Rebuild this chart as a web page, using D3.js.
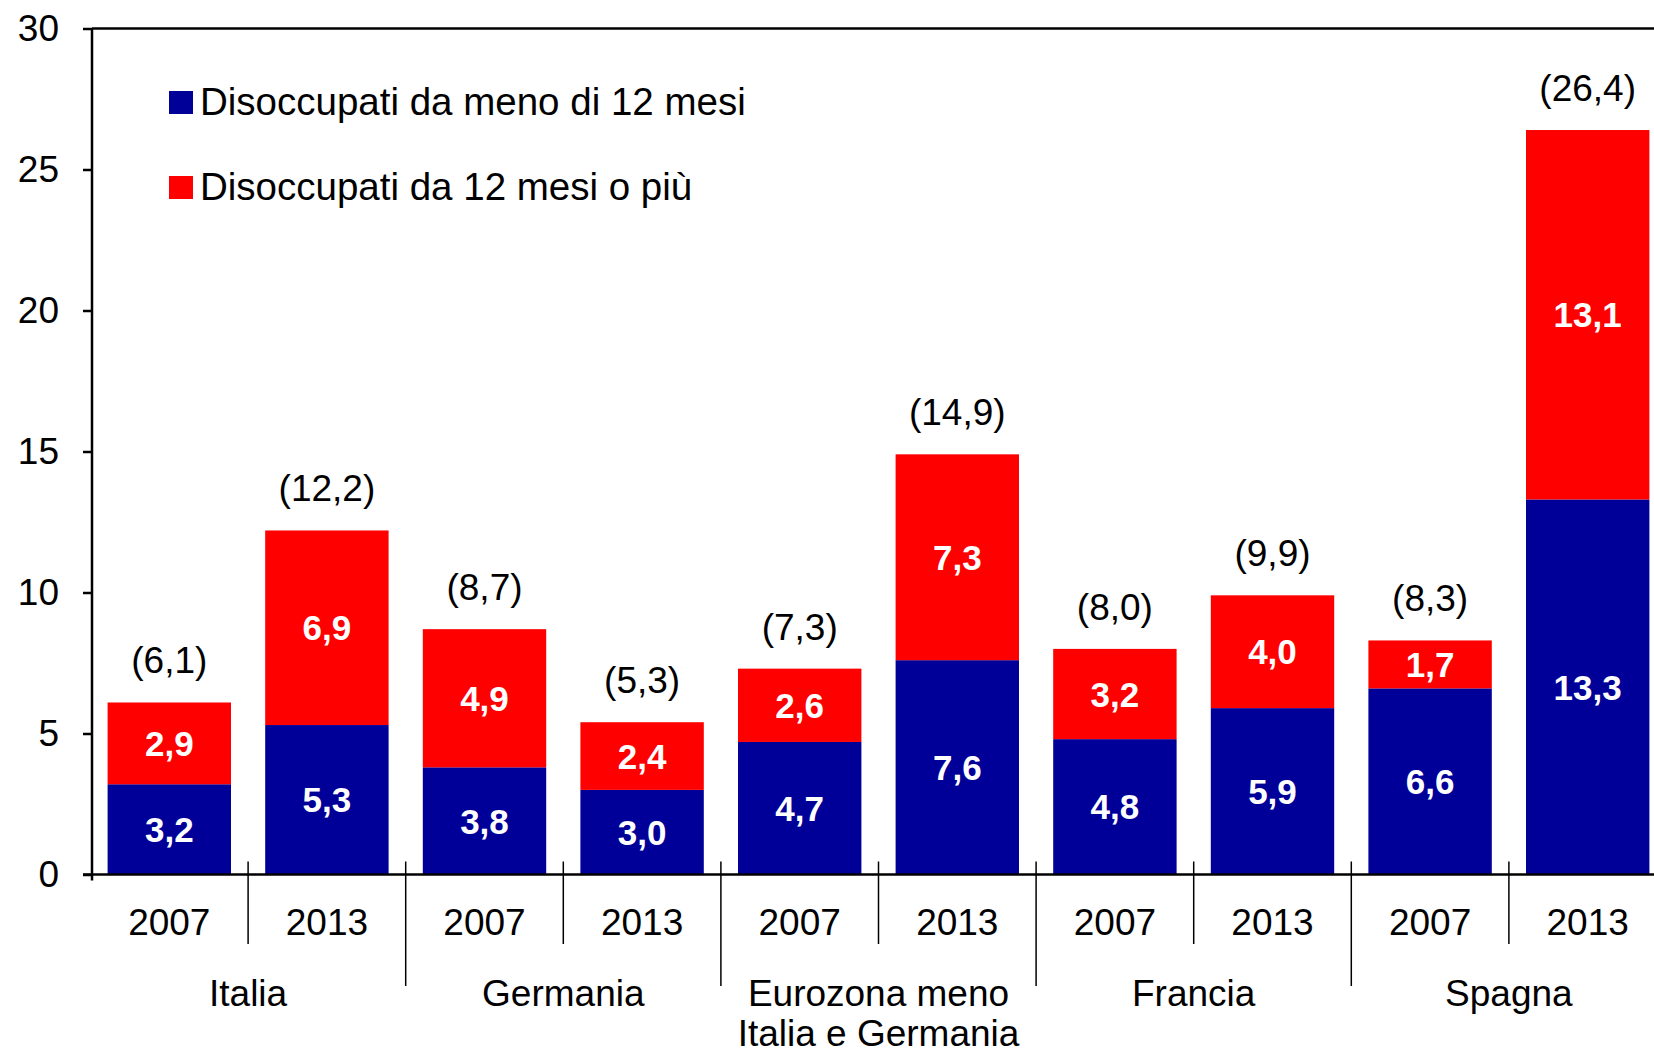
<!DOCTYPE html>
<html>
<head>
<meta charset="utf-8">
<script src="https://cdn.jsdelivr.net/npm/d3@7"></script>
<style>
  body { margin: 0; background: #fff; }
  svg { display: block; }
</style>
</head>
<body>
<svg id="chart" width="1654" height="1055"></svg>
<script>
const countries = [
  ["Italia"],
  ["Germania"],
  ["Eurozona meno", "Italia e Germania"],
  ["Francia"],
  ["Spagna"]
];
const years = ["2007", "2013"];
const shortTerm = [3.2, 5.3, 3.8, 3.0, 4.7, 7.6, 4.8, 5.9, 6.6, 13.3];
const longTerm = [2.9, 6.9, 4.9, 2.4, 2.6, 7.3, 3.2, 4.0, 1.7, 13.1];
const totals = [6.1, 12.2, 8.7, 5.3, 7.3, 14.9, 8.0, 9.9, 8.3, 26.4];
const yTicks = [0, 5, 10, 15, 20, 25, 30];
const seriesNames = ["Disoccupati da meno di 12 mesi", "Disoccupati da 12 mesi o più"];
const colors = ["#000099", "#ff0000"];

const font = "'Liberation Sans', Arial, sans-serif";
const svg = d3.select("#chart");

const bars = [];
countries.forEach((c, ci) => years.forEach((yr, yi) => {
  const i = ci * 2 + yi;
  bars.push({ key: ci + "-" + yr, country: ci, year: yr, a: shortTerm[i], b: longTerm[i], total: totals[i] });
}));

const x = d3.scaleBand()
  .domain(bars.map(d => d.key))
  .range([90.5, 1666.5])
  .paddingInner(0.217)
  .paddingOuter(0.1085);

const y = d3.scaleLinear().domain([0, 30]).range([874.5, 28.5]);

const loc = d3.formatLocale({ decimal: ",", thousands: ".", grouping: [3], currency: ["", "€"] });
const fmt = loc.format(".1f");

// top frame line
svg.append("line")
  .attr("x1", 92).attr("x2", 1654)
  .attr("y1", y(30)).attr("y2", y(30))
  .attr("stroke", "#000").attr("stroke-width", 2.5);

// bars
const g = svg.selectAll(".bar").data(bars).join("g").attr("class", "bar")
  .attr("transform", d => `translate(${x(d.key)},0)`);

g.append("rect")
  .attr("y", d => y(d.a))
  .attr("width", x.bandwidth())
  .attr("height", d => y(0) - y(d.a))
  .attr("fill", colors[0]);

g.append("rect")
  .attr("y", d => y(d.a + d.b))
  .attr("width", x.bandwidth())
  .attr("height", d => y(d.a) - y(d.a + d.b))
  .attr("fill", colors[1]);

g.append("text")
  .attr("x", x.bandwidth() / 2)
  .attr("y", d => y(d.a / 2))
  .attr("dy", "0.36em")
  .attr("text-anchor", "middle")
  .attr("font-family", font).attr("font-weight", "bold").attr("font-size", 35)
  .attr("fill", "#fff")
  .text(d => fmt(d.a));

g.append("text")
  .attr("x", x.bandwidth() / 2)
  .attr("y", d => y(d.a + d.b / 2))
  .attr("dy", "0.36em")
  .attr("text-anchor", "middle")
  .attr("font-family", font).attr("font-weight", "bold").attr("font-size", 35)
  .attr("fill", "#fff")
  .text(d => fmt(d.b));

g.append("text")
  .attr("x", x.bandwidth() / 2)
  .attr("y", d => y(d.a + d.b) - 29)
  .attr("text-anchor", "middle")
  .attr("font-family", font).attr("font-size", 37)
  .attr("fill", "#000")
  .text(d => "(" + fmt(d.total) + ")");

// y axis
const yAxis = svg.append("g")
  .attr("transform", "translate(92,0)")
  .call(d3.axisLeft(y).tickValues(yTicks).tickSize(9).tickPadding(24).tickFormat(d => d));
yAxis.select(".domain").attr("stroke-width", 2.5).attr("d", `M0,${y(30)}V${y(0) + 6}`);
yAxis.selectAll(".tick line").attr("stroke-width", 2.5);
yAxis.selectAll("text").attr("font-family", font).attr("font-size", 37).attr("fill", "#000");

// x baseline
svg.append("line")
  .attr("x1", 83).attr("x2", 1654)
  .attr("y1", y(0)).attr("y2", y(0))
  .attr("stroke", "#000").attr("stroke-width", 2.5);

// separators
const gap = x.step() * x.paddingInner();
bars.forEach((d, i) => {
  if (i === 0) return;
  const sx = x(d.key) - gap / 2;
  const countrySep = i % 2 === 0;
  svg.append("line")
    .attr("x1", sx).attr("x2", sx)
    .attr("y1", y(0) - 13)
    .attr("y2", countrySep ? 986 : 944)
    .attr("stroke", "#000").attr("stroke-width", 1.5);
});

// year labels
svg.selectAll(".year").data(bars).join("text")
  .attr("x", d => x(d.key) + x.bandwidth() / 2)
  .attr("y", 935)
  .attr("text-anchor", "middle")
  .attr("font-family", font).attr("font-size", 37)
  .attr("fill", "#000")
  .text(d => d.year);

// country labels
countries.forEach((lines, ci) => {
  const cx = x(ci + "-2013") - gap / 2;
  const t = svg.append("text")
    .attr("text-anchor", "middle")
    .attr("font-family", font).attr("font-size", 37)
    .attr("fill", "#000");
  lines.forEach((ln, li) => {
    t.append("tspan").attr("x", cx).attr("y", 1006 + li * 40).text(ln);
  });
});

// legend
const leg = svg.selectAll(".leg").data(seriesNames).join("g").attr("class", "leg")
  .attr("transform", (d, i) => `translate(169,${91 + i * 85})`);
leg.append("rect").attr("width", 24).attr("height", 23).attr("fill", (d, i) => colors[i]);
leg.append("text")
  .attr("x", 31).attr("y", 24)
  .attr("font-family", font).attr("font-size", 38.5)
  .attr("fill", "#000")
  .text(d => d);
</script>
</body>
</html>
